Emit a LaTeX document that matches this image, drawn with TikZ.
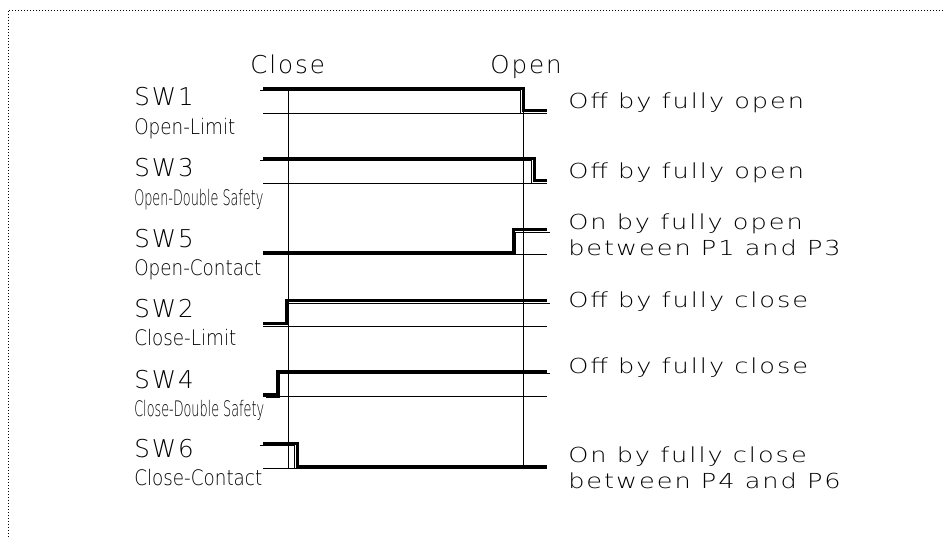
\documentclass[tikz,border=0pt]{standalone}
\usepackage{fontspec}
\newfontfamily\swfont{DejaVu Sans ExtraLight}[LetterSpace=8]
\newfontfamily\subfont{DejaVu Sans ExtraLight}[FakeStretch=0.86]
\newfontfamily\narrowfont{DejaVu Sans ExtraLight}[FakeStretch=0.6]
\newfontfamily\notefont{DejaVu Sans ExtraLight}[FakeStretch=1.24,LetterSpace=9.5]
\usetikzlibrary{positioning}

\begin{document}
\begin{tikzpicture}[x=0.75pt, y=-0.75pt,
    swlabel/.style={anchor=base west, inner sep=0pt, font=\swfont\fontsize{18.4}{22}\selectfont},
    sublabel/.style={anchor=base west, inner sep=0pt, font=\subfont\fontsize{16}{19}\selectfont},
    narrowlabel/.style={sublabel, font=\narrowfont\fontsize{16}{19}\selectfont},
    note/.style={anchor=base west, inner sep=0pt, font=\notefont\fontsize{15.5}{19}\selectfont},
    thinline/.style={line width=0.6pt},
    sigfall/.style={line width=2.25pt, postaction={draw, line width=0.6pt, transform canvas={xshift=-2.1pt, yshift=-2.1pt}}},
    sigrise/.style={line width=2.25pt, postaction={draw, line width=0.6pt, transform canvas={xshift=2.1pt, yshift=-2.1pt}}},
    frame/.style={line width=0.6pt, dash pattern=on 0.75pt off 1.5pt}
]
\useasboundingbox (0,0) rectangle (944,537);
\draw[frame] (8,537) -- (8,10) -- (944,10);

\node[swlabel] (close) at (250,73) {Close};
\node[swlabel] (open) at (490,73) {Open};

% switch names
\node[swlabel] (sw1) at (134,105.5) {SW1};
\node[sublabel] (sw1sub) at (134,134.5) {Open-Limit};
\node[swlabel] (sw3) at (134,176) {SW3};
\node[narrowlabel] (sw3sub) at (134,205) {Open-Double Safety};
\node[swlabel] (sw5) at (134,247) {SW5};
\node[sublabel] (sw5sub) at (134,275) {Open-Contact};
\node[swlabel] (sw2) at (134,317) {SW2};
\node[sublabel] (sw2sub) at (134,345) {Close-Limit};
\node[swlabel] (sw4) at (134,388) {SW4};
\node[narrowlabel] (sw4sub) at (134,416) {Close-Double Safety};
\node[swlabel] (sw6) at (134,457) {SW6};
\node[sublabel] (sw6sub) at (134,485) {Close-Contact};

% reference lines
\foreach \y in {113,183,254,326,396.5,468.5}
    \draw[thinline] (263,\y) -- (547,\y);
\draw[thinline] (288,88) -- (288,468.5);
\draw[thinline] (523,88) -- (523,468.5);

% signals
\draw[sigfall] (263,88) -- (523,88) -- (523,110.5) -- (547,110.5);
\draw[sigfall] (263,158) -- (534,158) -- (534,180.5) -- (547,180.5);
\draw[sigrise] (263,252) -- (513,252) -- (513,229.5) -- (547,229.5);
\draw[sigrise] (263,323.5) -- (286,323.5) -- (286,300.5) -- (547,300.5);
\draw[sigrise] (263,394.5) -- (277,394.5) -- (277,371) -- (547,371);
\draw[sigfall] (263,443) -- (297,443) -- (297,466) -- (547,466);

% notes
\node[note] (n1) at (568,108) {Off by fully open};
\node[note] (n3) at (568,178) {Off by fully open};
\node[note] (n5a) at (568,229) {On by fully open};
\node[note] (n5b) at (568,255) {between P1 and P3};
\node[note] (n2) at (568,307) {Off by fully close};
\node[note] (n4) at (568,373) {Off by fully close};
\node[note] (n6a) at (568,462) {On by fully close};
\node[note] (n6b) at (568,488) {between P4 and P6};
\end{tikzpicture}
\end{document}
